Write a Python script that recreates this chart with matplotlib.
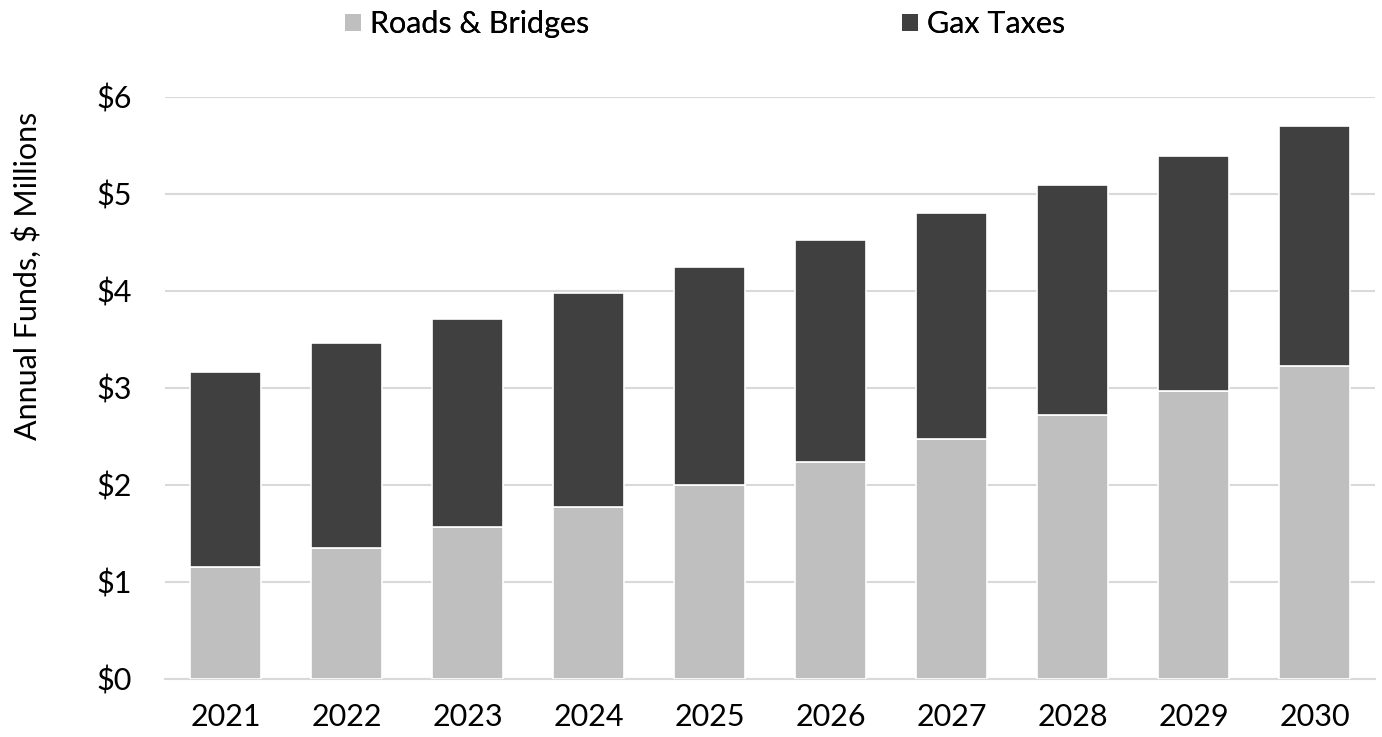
import numpy as np
import matplotlib.pyplot as plt
from matplotlib.patches import Patch

plt.rcParams['font.family'] = ['Lato', 'DejaVu Sans']

years = ['2021', '2022', '2023', '2024', '2025', '2026', '2027', '2028', '2029', '2030']
roads = [1.15, 1.35, 1.57, 1.77, 2.00, 2.24, 2.47, 2.72, 2.97, 3.23]
gas = [2.02, 2.11, 2.14, 2.21, 2.25, 2.29, 2.33, 2.37, 2.42, 2.47]

color_light = '#bfbfbf'
color_dark = '#404040'

fig = plt.figure(figsize=(13.82, 7.37), dpi=100)
ax = fig.add_axes([0.1194, 0.0787, 0.8756, 0.7897])

x = np.arange(len(years))
ax.bar(x, roads, width=0.58, color=color_light, edgecolor='white', linewidth=1.2, zorder=3)
ax.bar(x, gas, width=0.58, bottom=roads, color=color_dark, edgecolor='white', linewidth=1.2, zorder=3)

ax.set_xlim(-0.5, len(years) - 0.5)
ax.set_ylim(0, 6)
ax.set_yticks(range(7))
ax.set_yticklabels(['$' + str(v) for v in range(7)])
ax.set_xticks(x)
ax.set_xticklabels(years)
ax.yaxis.grid(True, color='#d9d9d9', linewidth=1.5, zorder=0)
for s in ['top', 'right', 'left']:
    ax.spines[s].set_visible(False)
ax.spines['bottom'].set_color('#d9d9d9')
ax.spines['bottom'].set_linewidth(1.5)
ax.tick_params(length=0, labelsize=22, colors='black')
ax.tick_params(axis='y', pad=24)
ax.tick_params(axis='x', pad=17)

fig.text(0.0195, 0.6255, 'Annual Funds, $ Millions', rotation=90, ha='center', va='center', fontsize=22)

# two separate legend entries, placed like the original
for label, col, xpos in [('Roads & Bridges', color_light, 0.2496), ('Gax Taxes', color_dark, 0.6527)]:
    leg = fig.legend(handles=[Patch(facecolor=col, edgecolor='none')], labels=[label],
                     loc='center left', bbox_to_anchor=(xpos, 0.967), frameon=False,
                     fontsize=22, handlelength=0.52, handleheight=0.52, handletextpad=0.3,
                     borderpad=0, borderaxespad=0)
    fig.add_artist(leg)

fig.savefig('out.png', dpi=100)
